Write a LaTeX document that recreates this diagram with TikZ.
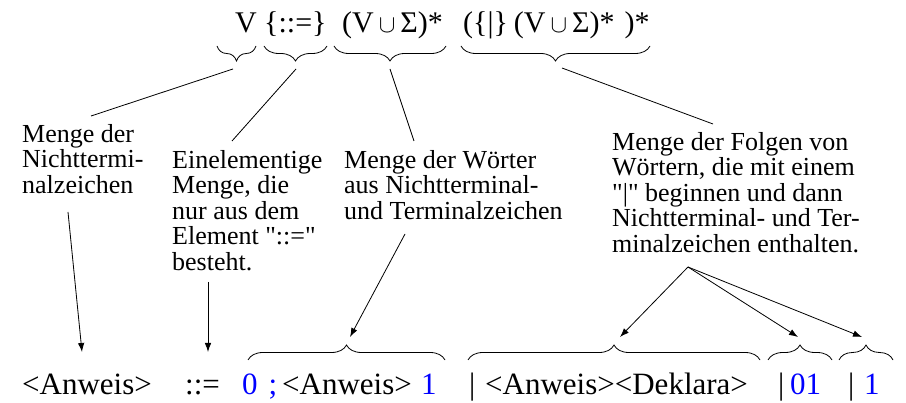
\documentclass[tikz,border=0pt]{standalone}
\usepackage{fontspec}
\setmainfont{Liberation Serif}[Ligatures=TeXOff]
\usetikzlibrary{decorations.pathreplacing,arrows.meta}
\newcommand{\cupsym}{\kern5pt$\cup$\kern5pt}
\begin{document}
\begin{tikzpicture}[x=1pt,y=-1pt,
  lbl/.style={anchor=north west,inner sep=0pt,align=left,font=\fontsize{26}{25.5}\selectfont},
  big/.style={anchor=base west,inner sep=0pt,font=\fontsize{30}{30}\selectfont},
  bot/.style={anchor=base west,inner sep=0pt,font=\fontsize{31}{31}\selectfont},
  blu/.style={text=blue},
  conn/.style={line width=0.8pt},
  arr/.style={line width=0.8pt,-{Latex[length=9pt,width=6.5pt]}},
  bracedown/.style={decorate,decoration={brace,mirror,amplitude=15pt},line width=0.8pt},
  braceup/.style={decorate,decoration={brace,amplitude=15pt},line width=0.8pt},
]
\useasboundingbox (0,0) rectangle (906,403);

% top formula
\node[big] (fV) at (235,33) {V};
\node[big] (fD) at (264,33) {\{::=\}};
\node[big] (fW) at (342,33) {(V\cupsym Σ)*};
\node[big] (fF) at (463,33) {(\{|\}\kern6pt(V\cupsym Σ)*\kern10pt)*};

% top braces
\draw[bracedown] (217,46) -- (256,46);
\draw[bracedown] (264,46) -- (327,46);
\draw[bracedown] (334,46) -- (446,46);
\draw[bracedown] (461,46) -- (650,46);

% connector ends
\coordinate (t1) at (233,69);
\coordinate (t2) at (296,69);
\coordinate (t3) at (390,69);
\coordinate (t4) at (562,68);
\coordinate (e1) at (91,116);
\coordinate (e2) at (232,141);
\coordinate (e3) at (414,141);
\coordinate (e4) at (713,124);

% labels
\node[lbl] (l1) at (22,124) {Menge der\\Nichttermi-\\nalzeichen};
\node[lbl] (l2) at (172,150) {Einelementige\\Menge, die\\nur aus dem\\Element "::="\\besteht.};
\node[lbl] (l3) at (344,150) {Menge der Wörter\\aus Nichtterminal-\\und Terminalzeichen};
\node[lbl] (l4) at (612,132) {Menge der Folgen von\\Wörtern, die mit einem\\"|" beginnen und dann\\Nichtterminal- und Ter-\\minalzeichen enthalten.};

\draw[conn] (t1) -- (e1);
\draw[conn] (t2) -- (e2);
\draw[conn] (t3) -- (e3);
\draw[conn] (t4) -- (e4);

% arrows down
\coordinate (s1) at (68,212);
\coordinate (s2) at (208,282);
\coordinate (s3) at (405,234);
\coordinate (s4) at (688,267);
\coordinate (p1) at (82,352);
\coordinate (p2) at (208,352);
\coordinate (p3) at (350,337);
\coordinate (p4) at (620,337);
\coordinate (p5) at (798,337);
\coordinate (p6) at (862,337);
\draw[arr] (s1) -- (p1);
\draw[arr] (s2) -- (p2);
\draw[arr] (s3) -- (p3);
\draw[arr] (s4) -- (p4);
\draw[arr] (s4) -- (p5);
\draw[arr] (s4) -- (p6);

% bottom braces
\draw[braceup] (248,360) -- (445,360);
\draw[braceup] (468,360) -- (760,360);
\draw[braceup] (768,360) -- (832,360);
\draw[braceup] (839,360) -- (893,360);

% bottom line
\node[bot] (b1) at (22,395) {<Anweis>};
\node[bot] (b2) at (185,395) {::=};
\node[bot,blu] (b3) at (242,395) {0\kern11pt;};
\node[bot] (b4) at (282,395) {<Anweis>};
\node[bot,blu] (b5) at (421,395) {1};
\node[bot] (b6) at (469,395) {|};
\node[bot] (b7) at (485,395) {<Anweis><Deklara>};
\node[bot] (b8) at (778,395) {|};
\node[bot,blu] (b9) at (790,395) {01};
\node[bot] (b10) at (848,395) {|};
\node[bot,blu] (b11) at (864,395) {1};
\end{tikzpicture}
\end{document}
